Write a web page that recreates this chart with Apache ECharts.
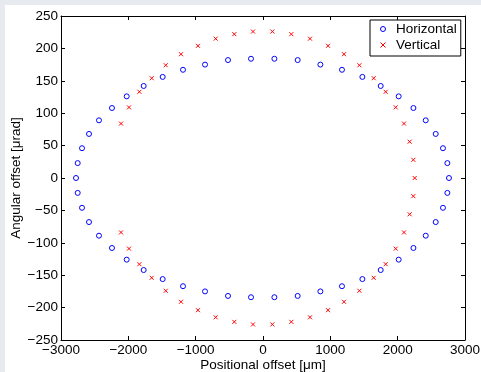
<!DOCTYPE html>
<html>
<head>
<meta charset="utf-8">
<script src="https://cdn.jsdelivr.net/npm/echarts@6/dist/echarts.min.js"></script>
<style>
html,body{margin:0;padding:0;background:#e7eaef;}
#wrap{position:absolute;left:5px;top:5px;width:476px;height:367px;background:#fff;}
#chart{position:absolute;left:0;top:0;width:481px;height:372px;}
</style>
</head>
<body>
<div id="wrap"></div>
<div id="chart"></div>
<script>
// Horizontal ellipse: top arc (left->right), right side (top->bottom), bottom arc (right->left), left side (bottom->top)
const horizontalX = [-2436,-2243,-2024,-1772,-1490,-1188,-861,-520,-178,169,515,852,1173,1476,1748,2015,2234,2417,
  2565,2673,2738,2762,2738,2673,2565,
  2417,2234,2015,1748,1476,1173,852,515,169,-178,-520,-861,-1188,-1490,-1772,-2024,-2243,-2436,
  -2584,-2688,-2752,-2777,-2752,-2688,-2584];
const horizontalY = [89,108,126,142,156,167,175,182,184,184,182,175,167,156,142,126,108,89,
  68,46,23,0,-23,-46,-68,
  -89,-108,-126,-142,-156,-167,-175,-182,-184,-184,-182,-175,-167,-156,-142,-126,-108,-89,
  -68,-46,-23,0,23,46,68];
// Vertical ellipse
const verticalX = [-2109,-1990,-1836,-1653,-1445,-1218,-966,-703,-426,-149,139,421,698,966,1203,1432,1644,1822,1971,2094,
  2178,2233,2253,2233,2178,
  2094,1971,1822,1644,1432,1203,966,698,421,139,-149,-426,-703,-966,-1218,-1445,-1653,-1836,-1990,-2109,
  -2198,-2247,-2267,-2247,-2198];
const verticalY = [84,109,133,154,174,191,204,215,222,226,226,222,215,204,191,174,154,133,109,84,
  56,28,0,-28,-56,
  -84,-109,-133,-154,-174,-191,-204,-215,-222,-226,-226,-222,-215,-204,-191,-174,-154,-133,-109,-84];
const seriesNames = ['Horizontal','Vertical'];
const xTicks = {min:-3000, max:3000, interval:1000};
const yTicks = {min:-250, max:250, interval:50};
const xTitle = 'Positional offset [\u03bcm]';
const yTitle = 'Angular offset [\u03bcrad]';

const FONT = "'Liberation Sans', Arial, Helvetica, sans-serif";
const FS = 13.5;
const fmt = v => String(v).replace('-', '\u2212');
const zip = (a,b) => a.map((v,i)=>[v,b[i]]);

const chart = echarts.init(document.getElementById('chart'), null, {renderer:'canvas'});
const axBase = {
  axisLine:{show:true,onZero:false,lineStyle:{color:'#000',width:1}},
  axisTick:{show:true,inside:true,length:4,lineStyle:{color:'#000',width:1}},
  splitLine:{show:false}
};
chart.setOption({
  backgroundColor:'transparent',
  animation:false,
  textStyle:{fontFamily:FONT},
  grid:{left:61,right:16,top:16,bottom:32,containLabel:false,outerBoundsMode:'none'},
  legend:{
    orient:'vertical', left:370, top:20,
    data:seriesNames,
    backgroundColor:'#fff', borderColor:'#000', borderWidth:1, borderRadius:0,
    padding:[2,4,4,10], itemGap:2, itemWidth:16, itemHeight:5,
    itemStyle:{borderWidth:1},
    textStyle:{fontFamily:FONT,fontSize:FS,color:'#000',lineHeight:14}
  },
  xAxis:[
    Object.assign({type:'value',position:'bottom',min:xTicks.min,max:xTicks.max,interval:xTicks.interval,
      name:xTitle,nameLocation:'middle',nameGap:18,nameMoveOverlap:false,
      nameTextStyle:{fontFamily:FONT,fontSize:FS,color:'#000'},
      axisLabel:{show:true,margin:3,fontFamily:FONT,fontSize:FS,color:'#000',formatter:fmt}},axBase),
    Object.assign({type:'value',position:'top',min:xTicks.min,max:xTicks.max,interval:xTicks.interval,
      axisLabel:{show:false}},axBase)
  ],
  yAxis:[
    Object.assign({type:'value',position:'left',min:yTicks.min,max:yTicks.max,interval:yTicks.interval,
      name:yTitle,nameLocation:'middle',nameGap:38,nameMoveOverlap:false,
      nameTextStyle:{fontFamily:FONT,fontSize:FS,color:'#000'},
      axisLabel:{show:true,margin:3,fontFamily:FONT,fontSize:FS,color:'#000',formatter:fmt}},axBase),
    Object.assign({type:'value',position:'right',min:yTicks.min,max:yTicks.max,interval:yTicks.interval,
      axisLabel:{show:false}},axBase)
  ],
  series:[
    {name:seriesNames[0],type:'scatter',xAxisIndex:0,yAxisIndex:0,
      data:zip(horizontalX,horizontalY),symbol:'circle',symbolSize:5,
      itemStyle:{color:'rgba(0,0,0,0)',borderColor:'#0000ff',borderWidth:1,opacity:1}},
    {name:seriesNames[1],type:'scatter',xAxisIndex:0,yAxisIndex:0,
      data:zip(verticalX,verticalY),symbol:'path://M0,0L10,10M10,0L0,10',symbolSize:4,
      itemStyle:{color:'rgba(0,0,0,0)',borderColor:'#ff0000',borderWidth:1,opacity:1}}
  ]
});
</script>
</body>
</html>
